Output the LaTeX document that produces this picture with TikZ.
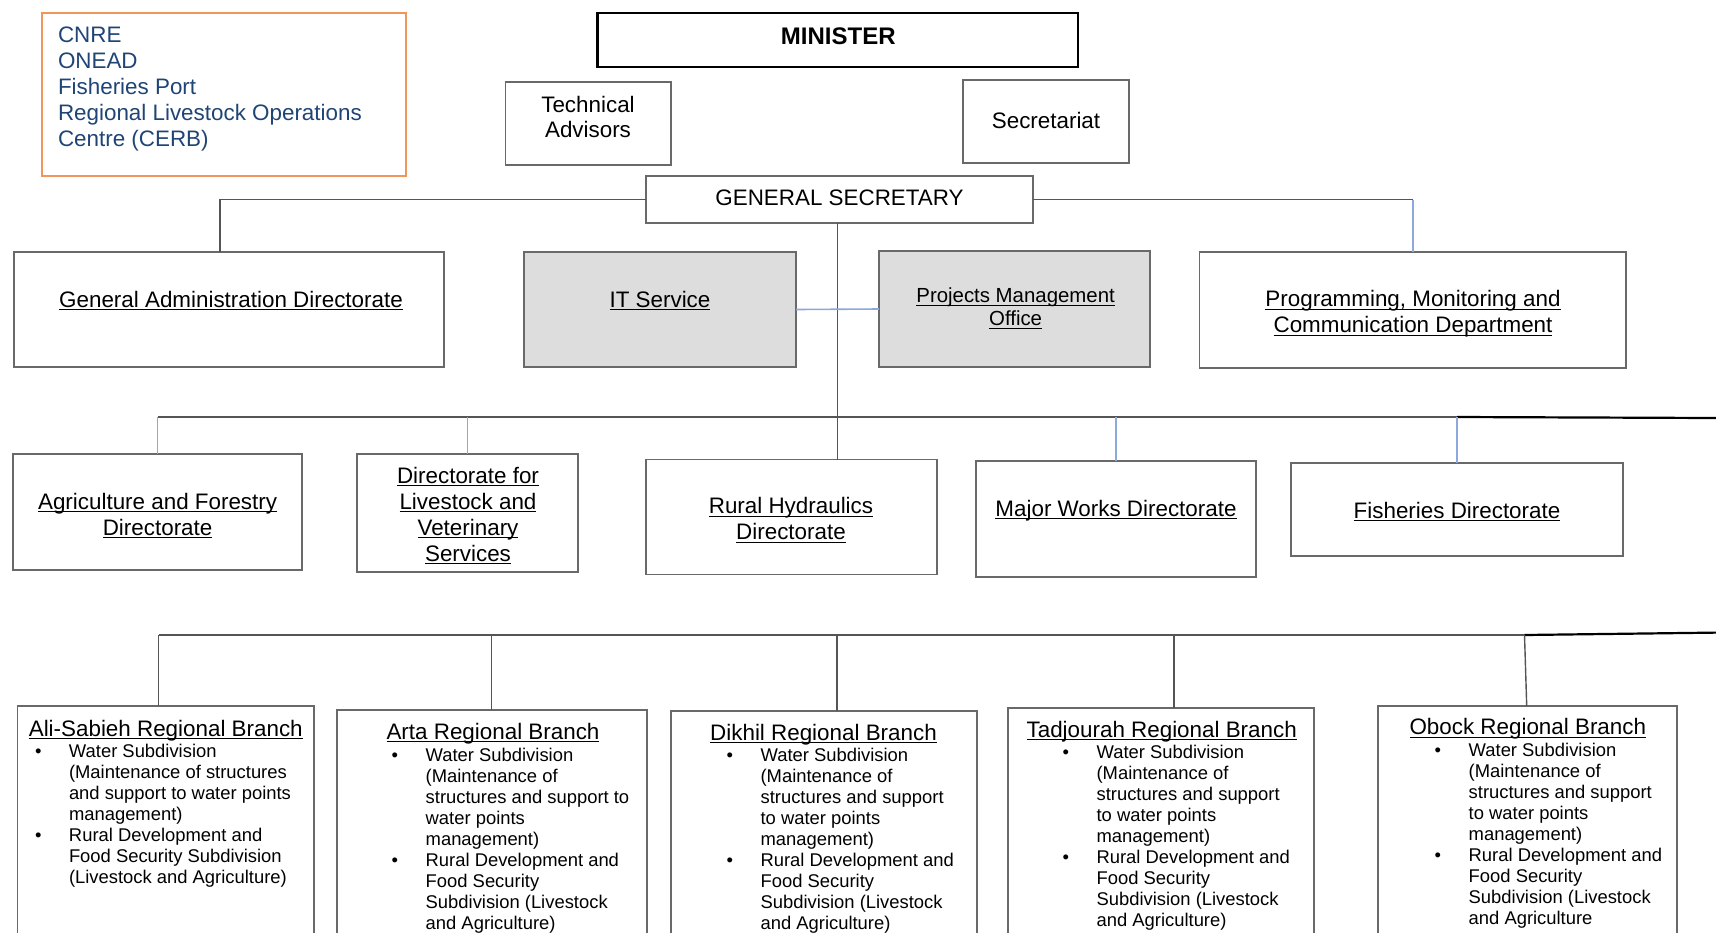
\documentclass[tikz,border=0pt]{standalone}
\usepackage{fontspec}
\setmainfont{Liberation Sans}
\usetikzlibrary{fit}
\definecolor{boxgray}{RGB}{105,105,105}
\definecolor{conngray}{RGB}{85,85,85}
\definecolor{lblue}{RGB}{140,168,220}
\definecolor{orng}{RGB}{240,150,90}
\definecolor{dblue}{RGB}{31,68,118}
\definecolor{fillgray}{RGB}{221,221,221}
\newcommand\ulx[1]{\setbox0\hbox{#1}\rlap{\rule[-1.7pt]{\wd0}{0.55pt}}\box0}
\newcommand\bul{\makebox[17.5pt][l]{\hspace{0.5pt}\textbullet}}
\newcommand\ind{\hspace*{17.5pt}}
\tikzset{
 box/.style={draw=boxgray, line width=0.75pt, inner sep=0pt, outer sep=0pt, rectangle},
 gbox/.style={box, fill=fillgray},
 mbox/.style={draw=black, line width=1.4pt, inner sep=0pt, outer sep=0pt},
 obox/.style={draw=orng, line width=1pt, inner sep=0pt, outer sep=0pt},
 txt/.style={inner sep=0pt, outer sep=0pt, font=\fontsize{11.2}{13}\selectfont, align=center, anchor=base},
 smalltxt/.style={txt, font=\fontsize{10.2}{11.5}\selectfont},
 listtxt/.style={inner sep=0pt, outer sep=0pt, font=\fontsize{9.2}{10.5}\selectfont, align=left, anchor=base west},
 conn/.style={draw=conngray, line width=0.7pt},
 bconn/.style={draw=lblue, line width=0.8pt},
 kconn/.style={draw=black, line width=1.1pt},
}
\begin{document}
\begin{tikzpicture}[x=0.5pt,y=-0.5pt]
\useasboundingbox (0,0) rectangle (1716,932);
\clip (0,0) rectangle (1716,932);

% (multi-line text nodes are placed by the baseline of their last line)
% external bodies
\node[obox, fit={(41.6,13) (406,176)}] (EXT) {};
\node[txt, align=left, anchor=base west, text=dblue] (EXTt) at (58,146) {CNRE\\ONEAD\\Fisheries Port\\Regional Livestock Operations\\Centre (CERB)};

% top
\node[mbox, fit={(597.5,13) (1078,67)}] (MIN) {};
\node[txt, font=\fontsize{12}{14}\selectfont\bfseries] (MINt) at (838.3,44.7) {MINISTER};
\node[box, fit={(505.6,82) (671,165)}] (TA) {};
\node[txt, font=\fontsize{11.2}{12.5}\selectfont] (TAt) at (588,137) {Technical\\Advisors};
\node[box, fit={(963,80) (1129,163)}] (SEC) {};
\node[txt] (SECt) at (1046,128.4) {Secretariat};
\node[box, fit={(646,176) (1033,223)}] (GS) {};
\node[txt] (GSt) at (839.5,205) {GENERAL SECRETARY};

% second row
\node[box, fit={(14,252) (444,367)}] (GAD) {};
\node[txt] (GADt) at (231,307) {\ulx{General Administration Directorate}};
\node[gbox, fit={(524,252) (796,367)}] (IT) {};
\node[txt] (ITt) at (660,307) {\ulx{IT Service}};
\node[gbox, fit={(879,251) (1150,367)}] (PMO) {};
\node[smalltxt] (PMOt) at (1015.6,325.8) {\ulx{Projects Management}\\\ulx{Office}};
\node[box, fit={(1199.5,252) (1626,368)}] (PMCD) {};
\node[txt] (PMCDt) at (1413,332.8) {\ulx{Programming, Monitoring and}\\\ulx{Communication Department}};

% directorates
\node[box, fit={(13,454) (302,570)}] (AFD) {};
\node[txt] (AFDt) at (157.6,535) {\ulx{Agriculture and Forestry}\\\ulx{Directorate}};
\node[box, fit={(357,454) (578,572)}] (DLVS) {};
\node[txt] (DLVSt) at (468,561) {\ulx{Directorate for}\\\ulx{Livestock and}\\\ulx{Veterinary}\\\ulx{Services}};
\node[box, fit={(646,459.6) (937,574.6)}] (RHD) {};
\node[txt] (RHDt) at (791,539.6) {\ulx{Rural Hydraulics}\\\ulx{Directorate}};
\node[box, fit={(976,461) (1256,577)}] (MWD) {};
\node[txt] (MWDt) at (1116,516) {\ulx{Major Works Directorate}};
\node[box, fit={(1291,463) (1623,556)}] (FD) {};
\node[txt] (FDt) at (1457,518) {\ulx{Fisheries Directorate}};

% regional branches
\node[box, fit={(17.5,706) (314,960)}] (ASB) {};
\node[txt] (ASBt) at (165.8,736) {\ulx{Ali-Sabieh Regional Branch}};
\node[listtxt] (ASBl) at (34,883.3) {\bul Water Subdivision\\\ind(Maintenance of structures\\\ind and support to water points\\\ind management)\\\bul Rural Development and\\\ind Food Security Subdivision\\\ind(Livestock and Agriculture)};

\node[box, fit={(337,710) (647,960)}] (ARB) {};
\node[txt] (ARBt) at (493,739) {\ulx{Arta Regional Branch}};
\node[listtxt] (ARBl) at (390.7,929.5) {\bul Water Subdivision\\\ind(Maintenance of\\\ind structures and support to\\\ind water points\\\ind management)\\\bul Rural Development and\\\ind Food Security\\\ind Subdivision (Livestock\\\ind and Agriculture)};

\node[box, fit={(671,711) (977,960)}] (DKB) {};
\node[txt] (DKBt) at (823.5,740) {\ulx{Dikhil Regional Branch}};
\node[listtxt] (DKBl) at (725.6,929.5) {\bul Water Subdivision\\\ind(Maintenance of\\\ind structures and support\\\ind to water points\\\ind management)\\\bul Rural Development and\\\ind Food Security\\\ind Subdivision (Livestock\\\ind and Agriculture)};

\node[box, fit={(1008,708) (1314,960)}] (TJB) {};
\node[txt] (TJBt) at (1161.7,737) {\ulx{Tadjourah Regional Branch}};
\node[listtxt] (TJBl) at (1061.6,926.4) {\bul Water Subdivision\\\ind(Maintenance of\\\ind structures and support\\\ind to water points\\\ind management)\\\bul Rural Development and\\\ind Food Security\\\ind Subdivision (Livestock\\\ind and Agriculture)};

\node[box, fit={(1378,706) (1677,960)}] (OBB) {};
\node[txt] (OBBt) at (1527.8,734.7) {\ulx{Obock Regional Branch}};
\node[listtxt] (OBBl) at (1433.7,924.2) {\bul Water Subdivision\\\ind(Maintenance of\\\ind structures and support\\\ind to water points\\\ind management)\\\bul Rural Development and\\\ind Food Security\\\ind Subdivision (Livestock\\\ind and Agriculture};

% connectors: general secretary
\draw[conn] (GS.west) -| ([xshift=-4.5pt]GAD.north);
\draw[conn] (GS.east) -- (GS.east -| PMCD.north);
\draw[bconn] (GS.east -| PMCD.north) -- (PMCD.north);
\draw[conn] ([xshift=-1pt]GS.south) -- ([xshift=-1pt]GS.south |- RHD.north);
\draw[bconn] (IT.east) -- (PMO.west);

% bar to directorates
\coordinate (bar2) at (0,417);
\coordinate (edge2) at (1716,418);
\draw[conn] (AFD.north |- bar2) -- (FD.north |- bar2);
\draw[kconn] (FD.north |- bar2) -- (edge2);
\foreach \n in {AFD,DLVS,MWD,FD} \draw[bconn] (\n.north |- bar2) -- (\n.north);

% bar to regional branches
\coordinate (j1) at (158.7,635);
\coordinate (j2) at (491.4,635);
\coordinate (j3) at (837,635);
\coordinate (j4) at (1174,635);
\coordinate (j5) at (1524.5,635);
\coordinate (edge3) at (1716,632.6);
\draw[conn] (j1) -- (j5);
\draw[kconn] (j5) -- (edge3);
\draw[conn] (j1) -- (j1 |- ASB.north);
\draw[conn] (j2) -- (j2 |- ARB.north);
\draw[conn] (j3) -- (j3 |- DKB.north);
\draw[conn] (j4) -- (j4 |- TJB.north);
\draw[conn] (j5) -- ([xshift=-0.4pt]OBB.north);
\end{tikzpicture}
\end{document}
